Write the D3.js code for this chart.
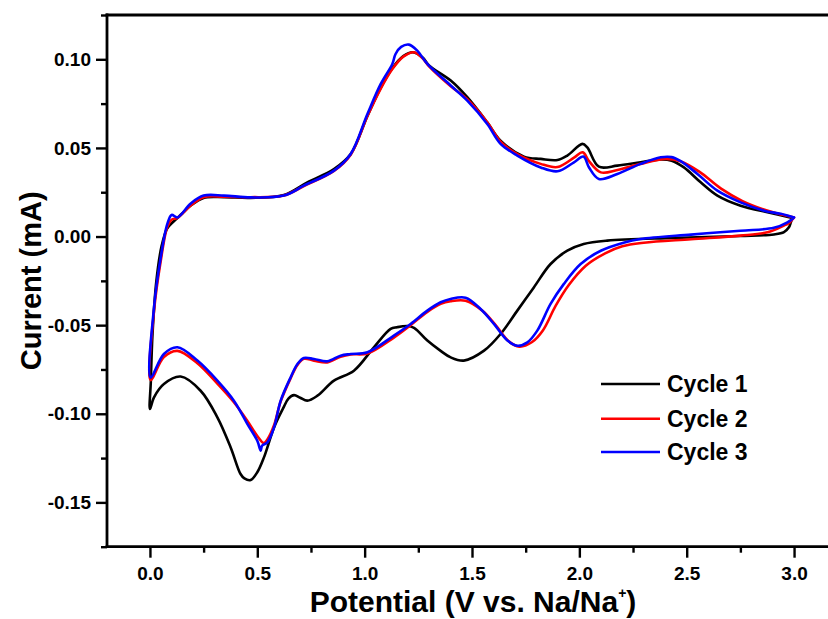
<!DOCTYPE html>
<html>
<head>
<meta charset="utf-8">
<script src="https://cdn.jsdelivr.net/npm/d3@7"></script>
<style>
  html, body { margin: 0; padding: 0; background: #fff; }
  svg { display: block; }
  text { font-family: "Liberation Sans", Arial, Helvetica, sans-serif; font-weight: bold; fill: #000; }
</style>
</head>
<body>
<svg id="chart" width="828" height="619"></svg>
<script>
// ---- Data (Potential V, Current mA), traced along the closed CV loop ----
const cycle1V = [2.992,2.985,2.976,2.953,2.906,2.75,2.44,2.13,2.02,1.944,1.866,1.788,1.711,1.633,1.556,1.462,1.401,1.354,1.292,1.23,1.199,1.15,1.121,1.043,0.95,0.857,0.78,0.733,0.70,0.671,0.645,0.62,0.578,0.531,0.50,0.469,0.44,0.422,0.376,0.314,0.236,0.143,0.065,0.019,0.0,
  0.004,0.012,0.03,0.055,0.08,0.11,0.15,0.19,0.25,0.345,0.469,0.624,0.733,0.857,0.935,1.013,1.075,1.129,1.18,1.225,1.27,1.30,1.401,1.478,1.571,1.633,1.742,1.82,1.898,1.944,2.014,2.037,2.091,2.177,2.285,2.38,2.43,2.487,2.565,2.643,2.751,2.876,2.992];
const cycle1I = [0.0105,0.008,0.0052,0.0025,0.0012,0.0003,-0.0008,-0.0023,-0.0042,-0.008,-0.0155,-0.0287,-0.0418,-0.055,-0.0644,-0.070,-0.0682,-0.0645,-0.0587,-0.0515,-0.0505,-0.0512,-0.0521,-0.0625,-0.0757,-0.0813,-0.0898,-0.0926,-0.091,-0.0895,-0.0915,-0.097,-0.1077,-0.1246,-0.133,-0.1374,-0.1365,-0.134,-0.119,-0.102,-0.087,-0.079,-0.0832,-0.0907,-0.0973,
  -0.082,-0.055,-0.025,-0.005,0.0045,0.0085,0.013,0.0175,0.0218,0.0222,0.0218,0.0235,0.0306,0.038,0.0465,0.068,0.084,0.095,0.1018,0.104,0.101,0.0965,0.088,0.0786,0.0644,0.0541,0.0451,0.0438,0.0432,0.0457,0.0523,0.0503,0.0394,0.040,0.0419,0.0435,0.0428,0.039,0.0306,0.0231,0.0174,0.0137,0.0105];

const cycle2V = [3.0,2.975,2.953,2.876,2.75,2.52,2.30,2.20,2.12,2.03,1.95,1.89,1.83,1.78,1.72,1.67,1.61,1.55,1.47,1.40,1.354,1.292,1.214,1.136,1.013,0.935,0.888,0.826,0.764,0.717,0.687,0.655,0.609,0.578,0.547,0.53,0.50,0.454,0.391,0.314,0.221,0.128,0.065,0.003,
  0.019,0.05,0.081,0.101,0.128,0.19,0.25,0.345,0.469,0.624,0.717,0.857,0.935,1.013,1.075,1.129,1.18,1.23,1.27,1.30,1.401,1.478,1.571,1.633,1.711,1.82,1.898,1.975,2.016,2.045,2.10,2.177,2.285,2.40,2.47,2.56,2.66,2.76,2.87,2.94,3.0];
const cycle2I = [0.0108,0.0075,0.0062,0.0024,0.0005,-0.0015,-0.0035,-0.0055,-0.0095,-0.0165,-0.0275,-0.039,-0.053,-0.0595,-0.0621,-0.059,-0.050,-0.042,-0.0362,-0.0365,-0.038,-0.0425,-0.050,-0.057,-0.066,-0.0665,-0.0678,-0.071,-0.070,-0.069,-0.0725,-0.080,-0.093,-0.1065,-0.1145,-0.1165,-0.1125,-0.104,-0.0935,-0.083,-0.0715,-0.0645,-0.068,-0.081,
  -0.042,-0.014,0.0055,0.0095,0.0105,0.0175,0.0222,0.0225,0.0222,0.0232,0.0285,0.037,0.0462,0.068,0.0835,0.0945,0.1015,0.104,0.1005,0.096,0.0848,0.0775,0.0645,0.0535,0.0465,0.041,0.0392,0.0445,0.0475,0.0425,0.0362,0.0375,0.041,0.0438,0.0425,0.0365,0.027,0.020,0.0148,0.0125,0.0108];

const cycle3V = [3.0,2.969,2.906,2.75,2.52,2.285,2.21,2.10,2.006,1.928,1.866,1.804,1.758,1.711,1.665,1.602,1.54,1.47,1.40,1.354,1.292,1.214,1.136,1.013,0.935,0.888,0.826,0.764,0.717,0.687,0.655,0.609,0.578,0.547,0.522,0.516,0.50,0.454,0.391,0.314,0.221,0.128,0.065,0.003,
  0.019,0.05,0.081,0.101,0.128,0.19,0.25,0.345,0.469,0.624,0.717,0.857,0.935,1.013,1.075,1.129,1.144,1.17,1.206,1.245,1.292,1.401,1.478,1.571,1.633,1.711,1.82,1.898,1.975,2.019,2.045,2.091,2.177,2.285,2.379,2.43,2.472,2.55,2.643,2.751,2.86,2.938,3.0];
const cycle3I = [0.0108,0.008,0.0049,0.0033,0.0011,-0.0014,-0.0033,-0.008,-0.0155,-0.0267,-0.038,-0.0531,-0.0597,-0.0616,-0.0587,-0.0493,-0.0409,-0.0345,-0.0352,-0.0371,-0.0418,-0.0493,-0.0559,-0.0653,-0.0663,-0.0672,-0.0704,-0.0691,-0.0685,-0.0719,-0.0795,-0.0926,-0.1077,-0.1161,-0.118,-0.1208,-0.1152,-0.1058,-0.0926,-0.0813,-0.070,-0.0625,-0.0663,-0.0795,
  -0.040,-0.012,0.0071,0.0122,0.0108,0.0187,0.0231,0.0231,0.0221,0.0231,0.0287,0.0372,0.0466,0.0692,0.0861,0.0974,0.103,0.107,0.1083,0.1049,0.0974,0.0852,0.0767,0.0635,0.0523,0.0457,0.039,0.0368,0.0419,0.0451,0.039,0.0325,0.0353,0.041,0.0447,0.0448,0.0425,0.0353,0.0259,0.0193,0.0146,0.0128,0.0108];

const seriesNames = ["Cycle 1", "Cycle 2", "Cycle 3"];
const seriesColors = ["#000000", "#ff0000", "#0000ff"];
const xMajorTicks = [0.0, 0.5, 1.0, 1.5, 2.0, 2.5, 3.0];
const xMinorTicks = [0.25, 0.75, 1.25, 1.75, 2.25, 2.75];
const yMajorTicks = [-0.15, -0.10, -0.05, 0.00, 0.05, 0.10];
const yMinorTicks = [-0.175, -0.125, -0.075, -0.025, 0.025, 0.075, 0.125];
const xTitle = "Potential (V vs. Na/Na";
const yTitle = "Current (mA)";

// ---- Chart ----
const svg = d3.select("#chart");
const mLeft = 107, mTop = 15, mBottom = 546.7, mRight = 837;
const x = d3.scaleLinear().domain([-0.2, 3.2]).range([mLeft, mRight]);
const y = d3.scaleLinear().domain([-0.175, 0.125]).range([mBottom, mTop]);

const series = [
  {name: seriesNames[0], color: seriesColors[0], pts: cycle1V.map((v, i) => [v, cycle1I[i]])},
  {name: seriesNames[1], color: seriesColors[1], pts: cycle2V.map((v, i) => [v, cycle2I[i]])},
  {name: seriesNames[2], color: seriesColors[2], pts: cycle3V.map((v, i) => [v, cycle3I[i]])}
];

const line = d3.line()
  .x(d => x(d[0])).y(d => y(d[1]))
  .curve(d3.curveCatmullRom.alpha(0.5));

svg.append("g").selectAll("path").data(series).join("path")
  .attr("d", d => line(d.pts))
  .attr("fill", "none")
  .attr("stroke", d => d.color)
  .attr("stroke-width", 2.6)
  .attr("stroke-linejoin", "round")
  .attr("stroke-linecap", "round");

// Axes
const axisW = 2.8;
function styleAxis(g) {
  g.select(".domain").remove();
  g.selectAll(".tick line").attr("stroke", "#000").attr("stroke-width", 2.4);
  g.selectAll(".tick text").style("font-size", "19px").style("font-weight", "bold")
    .style("font-family", "'Liberation Sans', Arial, sans-serif");
}

const xAxisG = svg.append("g").attr("transform", `translate(0,${mBottom})`)
  .call(d3.axisBottom(x).tickValues(xMajorTicks).tickSize(11).tickPadding(9).tickFormat(d => d.toFixed(1)));
styleAxis(xAxisG);
const xMinorG = svg.append("g").attr("transform", `translate(0,${mBottom})`)
  .call(d3.axisBottom(x).tickValues(xMinorTicks).tickSize(6).tickFormat(""));
styleAxis(xMinorG);

const yAxisG = svg.append("g").attr("transform", `translate(${mLeft},0)`)
  .call(d3.axisLeft(y).tickValues(yMajorTicks).tickSize(11).tickPadding(5).tickFormat(d => d.toFixed(2)));
styleAxis(yAxisG);
const yMinorG = svg.append("g").attr("transform", `translate(${mLeft},0)`)
  .call(d3.axisLeft(y).tickValues(yMinorTicks).tickSize(6).tickFormat(""));
styleAxis(yMinorG);

// Axis lines (left, bottom, top)
svg.append("line").attr("x1", mLeft).attr("x2", mLeft).attr("y1", mTop - 1.4).attr("y2", mBottom + 1.4)
  .attr("stroke", "#000").attr("stroke-width", axisW);
svg.append("line").attr("x1", mLeft - 1.4).attr("x2", 828).attr("y1", mBottom).attr("y2", mBottom)
  .attr("stroke", "#000").attr("stroke-width", axisW);
svg.append("line").attr("x1", mLeft - 1.4).attr("x2", 828).attr("y1", mTop).attr("y2", mTop)
  .attr("stroke", "#000").attr("stroke-width", axisW);

// Titles
const xt = svg.append("text")
  .attr("x", 473).attr("y", 612.3)
  .attr("text-anchor", "middle")
  .style("font-size", "30px");
xt.append("tspan").text(xTitle);
xt.append("tspan").attr("dy", -14).style("font-size", "14px").text("+");
xt.append("tspan").attr("dy", 14).text(")");

svg.append("text")
  .attr("transform", `translate(41,${(mTop + mBottom) / 2}) rotate(-90)`)
  .attr("text-anchor", "middle")
  .style("font-size", "29px")
  .text(yTitle);

// Legend
const legendY = [384, 418.7, 452];
const lg = svg.append("g");
series.forEach((s, i) => {
  lg.append("line").attr("x1", 601).attr("x2", 660).attr("y1", legendY[i]).attr("y2", legendY[i])
    .attr("stroke", s.color).attr("stroke-width", 2.6);
  lg.append("text").attr("x", 667).attr("y", legendY[i] + 8)
    .style("font-size", "23px").text(s.name);
});
</script>
</body>
</html>
